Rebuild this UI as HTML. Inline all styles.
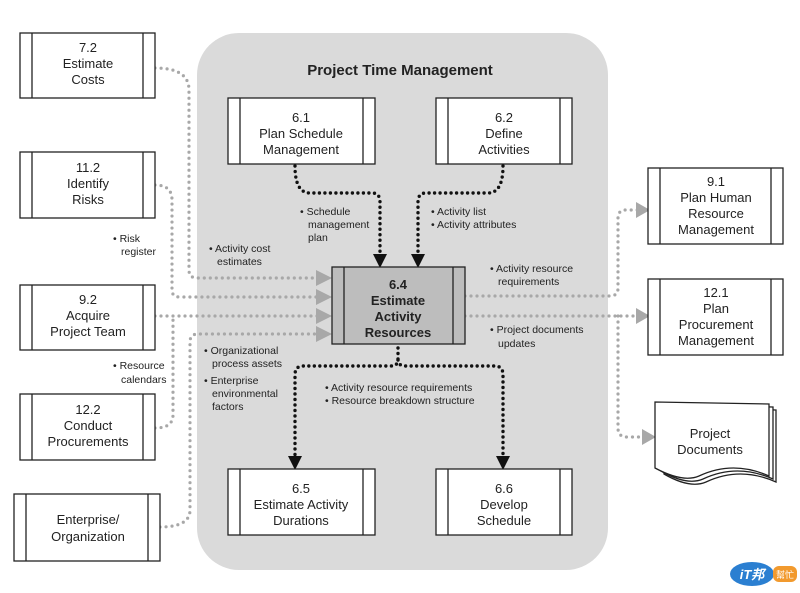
<!DOCTYPE html>
<html><head><meta charset="utf-8"><style>
html,body{margin:0;padding:0;background:#fff}
svg{display:block}
text{font-family:"Liberation Sans",sans-serif;fill:#222}
.b{font-size:13px;text-anchor:middle}
.s{font-size:10.5px}
</style></head><body>
<svg width="800" height="593" viewBox="0 0 800 593" xmlns="http://www.w3.org/2000/svg">
<defs>
<g id="bx"></g>
</defs>
<rect x="197" y="33" width="411" height="537" rx="42" fill="#dadada"/>
<text x="400" y="75" class="b" style="font-size:15px;font-weight:bold">Project Time Management</text>

<!-- gray dotted connectors -->
<g fill="none" stroke="#a8a8a8" stroke-width="3.2" stroke-linecap="round" stroke-dasharray="0 6">
<path d="M155 68 Q189 68 189 90 L189 270 Q189 278 197 278 L318 278"/>
<path d="M155 185 Q172 185 172 200 L172 290 Q172 297 180 297 L318 297"/>
<path d="M155 316 L318 316"/>
<path d="M155 428 Q173 428 173 415 L173 318"/>
<path d="M160 527 Q190 527 190 510 L190 342 Q190 334 198 334 L318 334"/>
<path d="M465 296 L610 296 Q618 296 618 288 L618 218 Q618 210 626 210 L638 210"/>
<path d="M465 316 L638 316"/>
<path d="M618 316 L618 428 Q618 437 627 437 L645 437"/>
</g>
<g fill="#a8a8a8">
<polygon points="316,270 332,278 316,286"/>
<polygon points="316,289 332,297 316,305"/>
<polygon points="316,308 332,316 316,324"/>
<polygon points="316,326 332,334 316,342"/>
<polygon points="636,202 650,210 636,218"/>
<polygon points="636,308 650,316 636,324"/>
<polygon points="642,429 656,437 642,445"/>
</g>

<!-- black dotted -->
<g fill="none" stroke="#111" stroke-width="3.4" stroke-linecap="round" stroke-dasharray="0 5.5">
<path d="M295 166 Q295 193 310 193 L372 193 Q380 193 380 202 L380 254"/>
<path d="M503 166 Q503 193 488 193 L426 193 Q418 193 418 202 L418 254"/>
<path d="M398 348 L398 360 Q398 366 390 366 L303 366 Q295 366 295 375 L295 456"/>
<path d="M398 360 Q398 366 406 366 L495 366 Q503 366 503 375 L503 456"/>
</g>
<g fill="#111">
<polygon points="373,254 387,254 380,268"/>
<polygon points="411,254 425,254 418,268"/>
<polygon points="288,456 302,456 295,470"/>
<polygon points="496,456 510,456 503,470"/>
</g>

<!-- boxes -->
<g stroke="#222" stroke-width="1.3" fill="#fff">
<rect x="20" y="33" width="135" height="65"/><path d="M32 33V98M143 33V98"/>
<rect x="20" y="152" width="135" height="66"/><path d="M32 152V218M143 152V218"/>
<rect x="20" y="285" width="135" height="65"/><path d="M32 285V350M143 285V350"/>
<rect x="20" y="394" width="135" height="66"/><path d="M32 394V460M143 394V460"/>
<rect x="14" y="494" width="146" height="67"/><path d="M26 494V561M148 494V561"/>
<rect x="228" y="98" width="147" height="66"/><path d="M240 98V164M363 98V164"/>
<rect x="436" y="98" width="136" height="66"/><path d="M448 98V164M560 98V164"/>
<rect x="228" y="469" width="147" height="66"/><path d="M240 469V535M363 469V535"/>
<rect x="436" y="469" width="136" height="66"/><path d="M448 469V535M560 469V535"/>
<rect x="648" y="168" width="135" height="76"/><path d="M660 168V244M771 168V244"/>
<rect x="648" y="279" width="135" height="76"/><path d="M660 279V355M771 279V355"/>
<rect x="332" y="267" width="133" height="77" fill="#bdbdbd"/><path d="M344 267V344M453 267V344"/>
<!-- docs -->
<path d="M662 407 L776 410 L776 482 Q740 466 706 482 Q690 489 664 474 Z"/>
<path d="M659 405 L773 407 L773 479 Q737 463 703 479 Q687 486 661 471 Z"/>
<path d="M655 402 L769 404 L769 476 Q733 460 699 476 Q683 483 655 468 Z"/>
</g>

<g class="b">
<text x="88" y="52">7.2</text><text x="88" y="68">Estimate</text><text x="88" y="84">Costs</text>
<text x="88" y="172">11.2</text><text x="88" y="188">Identify</text><text x="88" y="204">Risks</text>
<text x="88" y="304">9.2</text><text x="88" y="320">Acquire</text><text x="88" y="336">Project Team</text>
<text x="88" y="414">12.2</text><text x="88" y="430">Conduct</text><text x="88" y="446">Procurements</text>
<text x="88" y="524">Enterprise/</text><text x="88" y="541">Organization</text>
<text x="301" y="122">6.1</text><text x="301" y="138">Plan Schedule</text><text x="301" y="154">Management</text>
<text x="504" y="122">6.2</text><text x="504" y="138">Define</text><text x="504" y="154">Activities</text>
<text x="301" y="493">6.5</text><text x="301" y="509">Estimate Activity</text><text x="301" y="525">Durations</text>
<text x="504" y="493">6.6</text><text x="504" y="509">Develop</text><text x="504" y="525">Schedule</text>
<text x="716" y="186">9.1</text><text x="716" y="202">Plan Human</text><text x="716" y="218">Resource</text><text x="716" y="234">Management</text>
<text x="716" y="297">12.1</text><text x="716" y="313">Plan</text><text x="716" y="329">Procurement</text><text x="716" y="345">Management</text>
<text x="710" y="438">Project</text><text x="710" y="454">Documents</text>
<g style="font-weight:bold"><text x="398" y="289">6.4</text><text x="398" y="305">Estimate</text><text x="398" y="321">Activity</text><text x="398" y="337">Resources</text></g>
</g>

<g class="s">
<text x="113" y="242">• Risk</text><text x="121" y="255">register</text>
<text x="209" y="252">• Activity cost</text><text x="217" y="265">estimates</text>
<text x="300" y="215">• Schedule</text><text x="308" y="228">management</text><text x="308" y="241">plan</text>
<text x="431" y="215">• Activity list</text><text x="431" y="228">• Activity attributes</text>
<text x="490" y="272">• Activity resource</text><text x="498" y="285">requirements</text>
<text x="490" y="333">• Project documents</text><text x="498" y="347">updates</text>
<text x="204" y="354">• Organizational</text><text x="212" y="367">process assets</text>
<text x="204" y="384">• Enterprise</text><text x="212" y="397">environmental</text><text x="212" y="410">factors</text>
<text x="113" y="369">• Resource</text><text x="121" y="383">calendars</text>
<text x="325" y="391">• Activity resource requirements</text><text x="325" y="404">• Resource breakdown structure</text>
</g>

<!-- logo -->
<ellipse cx="752" cy="574" rx="22" ry="12" fill="#2b7fd1"/>
<text x="752" y="579" style="font-size:13px;font-weight:bold;fill:#fff;text-anchor:middle;font-style:italic">iT邦</text>
<rect x="773" y="566" width="24" height="16" rx="6" fill="#f29a2e"/>
<text x="785" y="578" style="font-size:9px;fill:#fff;text-anchor:middle;font-family:'Noto Sans CJK TC',sans-serif">幫忙</text>
</svg>
</body></html>
